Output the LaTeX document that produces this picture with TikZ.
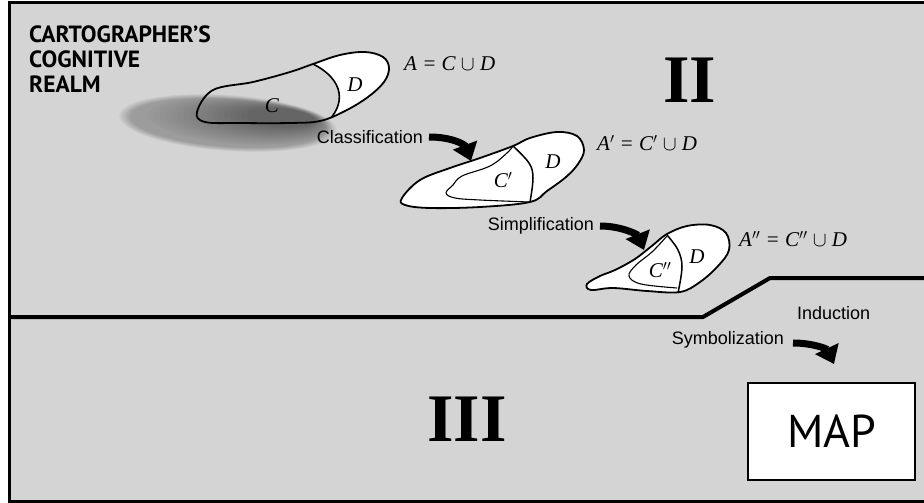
\documentclass[tikz,border=0pt]{standalone}
\usepackage{fontspec}
\setmainfont{Liberation Serif}
\newfontfamily\labfont{Liberation Sans}
\newfontfamily\ttlfont{PT Sans}
\usetikzlibrary{arrows.meta}
\definecolor{bg}{RGB}{212,212,212}
\begin{document}
\begin{tikzpicture}[x=1pt,y=-1pt,
  proc/.style={font=\labfont\fontsize{18}{20}\selectfont, inner sep=0pt},
  eqn/.style={font=\fontsize{21}{23}\selectfont\itshape, inner sep=0pt},
  setlab/.style={font=\fontsize{21}{23}\selectfont\itshape, inner sep=0pt},
  outline/.style={draw=black, line width=1.8pt},
  innerline/.style={draw=black, line width=1.1pt},
  bigarrow/.style={line width=7pt, -{Triangle[length=17pt,width=25pt]}},
  realm/.style={font=\bfseries\fontsize{68}{70}\selectfont, inner sep=0pt}]
\useasboundingbox (0,0) rectangle (924,503);
% background and frame
\fill[bg] (9,3) rectangle (924,501);
\draw[line width=3pt] (924,3) -- (9,3) -- (9,501) -- (924,501);
% dividing line
\coordinate (l0) at (9,317);
\coordinate (l1) at (703,317);
\coordinate (l2) at (770,278);
\coordinate (l3) at (924,278);
\draw[line width=4pt, line join=round] (l0) -- (l1) -- (l2) -- (l3);
% title
\node[font=\ttlfont\bfseries\fontsize{23.5}{25}\selectfont, align=left, anchor=north west, inner sep=0pt] (title) at (29,26)
  {CARTOGRAPHER’S\\COGNITIVE\\REALM};
% realm numerals
\node[realm] (two) at (690,80) {II};
\node[realm] (three) at (467,419) {III};
% shaded blob: soft edge, then darkening toward the right
\foreach \i in {0,...,7}{
  \fill[black, opacity=0.035, rotate around={-4:(228,123)}]
    (228,123) ellipse [x radius=109-1.6*\i, y radius=28-0.6*\i];
}
\foreach \i in {0,...,17}{
  \fill[black, opacity=0.02, rotate around={-4:(240+2.4*\i,121-0.2*\i)}]
    (240+2.4*\i,121-0.2*\i) ellipse [x radius=92-3.4*\i, y radius=23-0.8*\i];
}
% blob 1
\def\blobA{plot[smooth cycle, tension=0.6] coordinates {(197,112) (213,90) (253,82) (290,72) (313,64) (340,55) (365,52) (383,57) (389,68) (384,82) (368,97) (345,111) (320,121) (290,123) (240,123) (205,122)}}
\begin{scope}
  \clip \blobA;
  \fill[white] (313,64) .. controls (345,80) and (346,105) .. (326,123) -- (420,140) -- (420,30) -- cycle;
  \draw[innerline, line width=1.6pt] (313,64) .. controls (345,80) and (346,105) .. (326,123);
\end{scope}
\draw[outline] \blobA;
\node[setlab] (c1) at (272,106) {C};
\node[setlab] (d1) at (355,85) {D};
\node[eqn, anchor=west] (eq1) at (404,64) {A = C $\cup$ D};
% blob 2
\draw[outline, fill=white] plot[smooth cycle, tension=0.6] coordinates {(402,198) (420,180) (450,168) (480,158) (513,146) (530,138) (557,132) (577,136) (584,150) (578,164) (566,177) (547,191) (530,202) (480,207) (430,208) (405,205)};
\draw[innerline] plot[smooth, tension=0.6] coordinates {(513,146) (507,153) (490,166) (462,176) (453,185) (446,193) (455,198) (480,200) (529,202)};
\draw[innerline, line width=1.5pt] plot[smooth, tension=0.6] coordinates {(513,146) (529,163) (533,178) (530,202)};
\node[setlab] (c2) at (503,180) {C$'$};
\node[setlab] (d2) at (553,162) {D};
\node[eqn, anchor=west] (eq2) at (597,143) {A$'$ = C$'$ $\cup$ D};
% blob 3
\draw[outline, fill=white] plot[smooth cycle, tension=0.6] coordinates {(587,284) (600,276) (615,270) (635,259) (653,245) (667,234) (687,226) (710,225) (726,233) (729,250) (718,266) (700,282) (680,292) (647,291) (613,288) (591,290)};
\draw[innerline] plot[smooth, tension=0.6] coordinates {(667,236) (652,252) (636,265) (629,276) (641,284) (677,288)};
\draw[innerline, line width=1.5pt] plot[smooth, tension=0.6] coordinates {(667,235) (678,250) (682,267) (678,293)};
\node[setlab] (c3) at (660,270) {C$''$};
\node[setlab] (d3) at (697,257) {D};
\node[eqn, anchor=west] (eq3) at (739,239) {A$''$ = C$''$ $\cup$ D};
% process labels
\node[proc, anchor=east] (cls) at (423,137) {Classification};
\node[proc, anchor=east] (simp) at (594,226) {Simplification};
\node[proc, anchor=east] (sym) at (784,340) {Symbolization};
\node[proc, anchor=west] (ind) at (797,313) {Induction};
% MAP box
\node[draw=black, line width=2pt, fill=white, minimum width=167pt, minimum height=97pt, inner sep=0pt,
  font=\ttlfont\fontsize{46}{48}\selectfont] (map) at (831.5,431.5) {MAP};
% arrows
\coordinate (t1) at (471,161);
\coordinate (t2) at (644,250);
\coordinate (t3) at (834,364);
\draw[bigarrow] ([xshift=6pt]cls.east) .. controls +(24,0) and +(-6,-16) .. (t1);
\draw[bigarrow] ([xshift=6pt]simp.east) .. controls +(22,0) and +(-6,-15) .. (t2);
\draw[bigarrow] ([xshift=9pt,yshift=-3pt]sym.east) .. controls +(20,0) and +(-7,-15) .. (t3);
\end{tikzpicture}
\end{document}
